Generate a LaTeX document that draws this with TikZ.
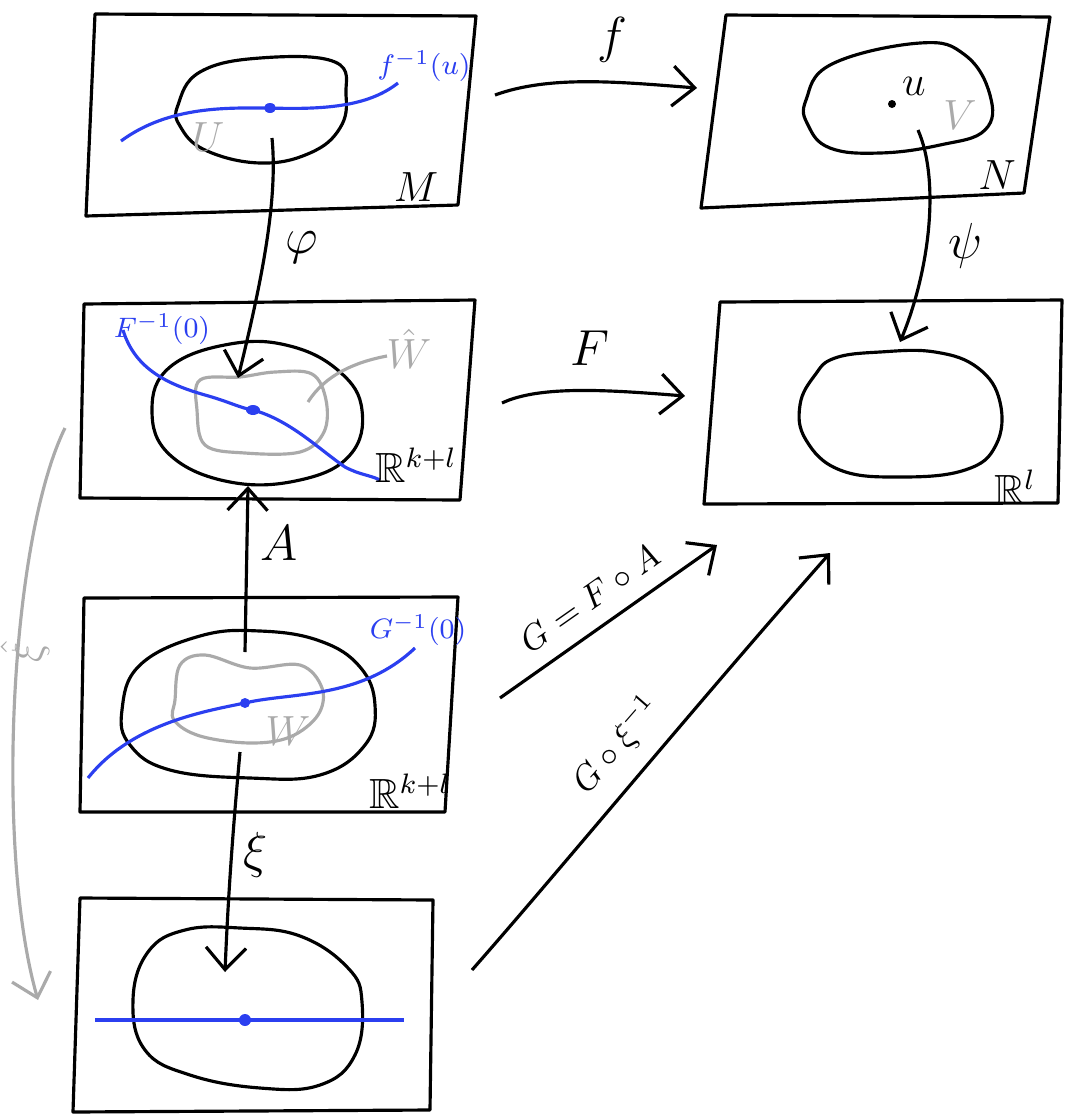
\documentclass[tikz,border=0pt]{standalone}
\usepackage{amsmath,amssymb}
\usepackage{tikz}
\usetikzlibrary{arrows.meta, positioning, calc}
\definecolor{SketchBlack}{HTML}{000000}
\definecolor{SketchBlue}{HTML}{2B3FF0}
\definecolor{SketchGray}{HTML}{AAAAAA}
\tikzset{
    % Frames and regions
    frame/.style={
        draw=SketchBlack,
        line width=0.9pt,
        line join=round
    },
    region/.style={
        draw=SketchBlack,
        line width=0.9pt
    },
    subregion/.style={
        draw=SketchGray,
        line width=0.9pt
    },
    fiber/.style={
        draw=SketchBlue,
        line width=0.9pt
    },
    % Arrow styles
    maparrow/.style={
        -{Straight Barb[length=2.2mm,width=4mm]},
        line width=0.9pt,
        SketchBlack
    },
    grayarrow/.style={
        -{Straight Barb[length=2.2mm,width=4mm]},
        line width=0.9pt,
        SketchGray
    },
    % Text styles
    maplabel/.style={
        font=\Large,
        text=SketchBlack
    },
    diaglabel/.style={
        font=\normalsize,
        text=SketchBlack,
        inner sep=1pt
    },
    spacelabel/.style={
        font=\large,
        text=SketchBlack
    },
    bluelabel/.style={
        font=\footnotesize,
        text=SketchBlue,
        inner sep=1pt
    },
    graylabel/.style={
        font=\large,
        text=SketchGray,
        inner sep=1pt
    }
}

\begin{document}
\begin{tikzpicture}[x=0.01cm, y=-0.01cm]
    \useasboundingbox (0,0) rectangle (1068,1114);

    % Frames
    \draw[frame] (95,14) -- (476,16) -- (458,205) -- (86,216) -- cycle;
    \draw[frame] (726,15) -- (1050,17) -- (1024,193) -- (701,208) -- cycle;
    \draw[frame] (84,304) -- (475,300) -- (460,500) -- (80,498) -- cycle;
    \draw[frame] (720,302) -- (1062,300) -- (1058,503) -- (704,504) -- cycle;
    \draw[frame] (84,598) -- (458,597) -- (445,812) -- (80,812) -- cycle;
    \draw[frame] (80,898) -- (433,900) -- (430,1110) -- (73,1112) -- cycle;

    % M
    \draw[region] plot[smooth cycle, tension=0.7] coordinates {(178,105) (200,72) (260,58) (335,62) (346,95) (340,128) (310,153) (260,163) (205,150) (180,126)};
    \draw[fiber] (121,141) .. controls (170,105) and (230,108) .. (270,108) .. controls (330,110) and (370,105) .. (398,83);
    \fill[SketchBlue] (270,108) ellipse (6 and 5);
    \coordinate (m) at (272,138);
    \node[bluelabel] (fu) at (424,66) {$f^{-1}(u)$};
    \node[graylabel] (U) at (208,137) {$U$};
    \node[spacelabel] (M) at (416,187) {$M$};

    % N
    \draw[region] plot[smooth cycle, tension=0.7] coordinates {(806,100) (832,64) (920,43) (965,55) (990,95) (985,130) (940,145) (880,153) (830,148) (808,125)};
    \fill[SketchBlack] (892,104) circle (4);
    \coordinate (n) at (918,130);
    \node[spacelabel] (u) at (914,86) {$u$};
    \node[graylabel] (V) at (960,115) {$V$};
    \node[spacelabel] (N) at (997,175) {$N$};

    % R^{k+l}, top
    \draw[region] plot[smooth cycle, tension=0.7] coordinates {(152,410) (170,367) (230,344) (290,346) (340,372) (362,410) (350,455) (300,480) (230,482) (170,455)};
    \draw[subregion] plot[smooth cycle, tension=0.6] coordinates {(200,380) (240,377) (275,372) (312,374) (326,400) (324,432) (300,452) (245,453) (205,445) (197,410)};
    \draw[subregion] (308,402) .. controls (325,375) and (355,362) .. (387,356);
    \draw[fiber] (123,330) .. controls (135,370) and (170,385) .. (205,395) .. controls (230,402) and (240,408) .. (253,410) .. controls (290,420) and (320,450) .. (345,467) .. controls (360,475) and (370,475) .. (380,480);
    \fill[SketchBlue] (253,410) ellipse (7 and 5);
    \coordinate (r) at (238,378);
    \coordinate (rb) at (248,486);
    \node[bluelabel] (Finv) at (162,329) {$F^{-1}(0)$};
    \node[graylabel] (What) at (409,349) {$\hat{W}$};
    \node[spacelabel] (Rkl) at (416,465) {$\mathbb{R}^{k+l}$};

    % R^l
    \draw[region] plot[smooth cycle, tension=0.7] coordinates {(835,358) (880,352) (935,352) (978,368) (1000,402) (996,445) (965,470) (900,477) (840,470) (806,440) (800,405) (815,375)};
    \coordinate (s) at (900,342);
    \node[spacelabel] (Rl) at (1015,487) {$\mathbb{R}^{l}$};

    % R^{k+l}, middle
    \draw[region] plot[smooth cycle, tension=0.7] coordinates {(122,710) (140,665) (200,636) (260,631) (320,641) (360,667) (375,705) (365,745) (320,775) (250,778) (170,770) (130,745)};
    \draw[subregion] plot[smooth cycle, tension=0.6] coordinates {(175,700) (180,665) (205,655) (250,668) (300,665) (322,688) (318,715) (290,737) (250,743) (200,736) (174,720)};
    \draw[fiber] (88,778) .. controls (130,725) and (200,712) .. (245,703) .. controls (290,692) and (360,700) .. (415,648);
    \fill[SketchBlue] (245,703) circle (5);
    \coordinate (w) at (245,652);
    \coordinate (wb) at (240,752);
    \node[bluelabel] (Ginv) at (418,630) {$G^{-1}(0)$};
    \node[graylabel] (W) at (288,731) {$W$};
    \node[spacelabel] (Rkl2) at (410,791) {$\mathbb{R}^{k+l}$};

    % R^{k+l}, bottom
    \draw[region] plot[smooth cycle, tension=0.7] coordinates {(133,1000) (148,952) (185,930) (240,928) (300,936) (348,968) (362,1002) (355,1055) (320,1085) (260,1088) (190,1075) (145,1050)};
    \draw[fiber] (95,1020) -- (404,1020);
    \fill[SketchBlue] (245,1020) circle (6);
    \coordinate (z) at (225,972);

    % Maps
    \coordinate (fa) at (495,95);
    \coordinate (fb) at (697,88);
    \draw[maparrow] (fa) .. controls (550,75) and (620,82) .. (fb);
    \node[maplabel] (flab) at (612,40) {$f$};

    \draw[maparrow] (m) .. controls (278,200) and (262,280) .. (r);
    \node[maplabel] (philab) at (302,248) {$\varphi$};

    \draw[maparrow] (n) .. controls (940,180) and (930,270) .. (s);
    \node[maplabel] (psilab) at (966,246) {$\psi$};

    \coordinate (Fa) at (502,403);
    \coordinate (Fb) at (685,396);
    \draw[maparrow] (Fa) .. controls (540,385) and (610,390) .. (Fb);
    \node[maplabel] (Flab) at (590,348) {$F$};

    \draw[maparrow] (w) -- (rb);
    \node[maplabel] (Alab) at (279,543) {$A$};

    \draw[maparrow] (wb) .. controls (232,840) and (228,900) .. (z);
    \node[maplabel] (xilab) at (256,855) {$\xi$};

    \coordinate (ga) at (500,698);
    \coordinate (gb) at (717,545);
    \draw[maparrow] (ga) -- (gb);
    \node[diaglabel, rotate=35] (Glab) at (590,598) {$G=F\circ A$};

    \coordinate (ha) at (472,970);
    \coordinate (hb) at (830,553);
    \draw[maparrow] (ha) .. controls (560,870) and (700,700) .. (hb);
    \node[diaglabel, rotate=49] (Hlab) at (617,745) {$G\circ\xi^{-1}$};

    \coordinate (xa) at (65,428);
    \coordinate (xb) at (38,1000);
    \draw[grayarrow] (xa) .. controls (10,540) and (-5,850) .. (xb);
    \node[graylabel, rotate=90] (xihat) at (25,652) {$\hat{\xi}$};
\end{tikzpicture}
\end{document}
